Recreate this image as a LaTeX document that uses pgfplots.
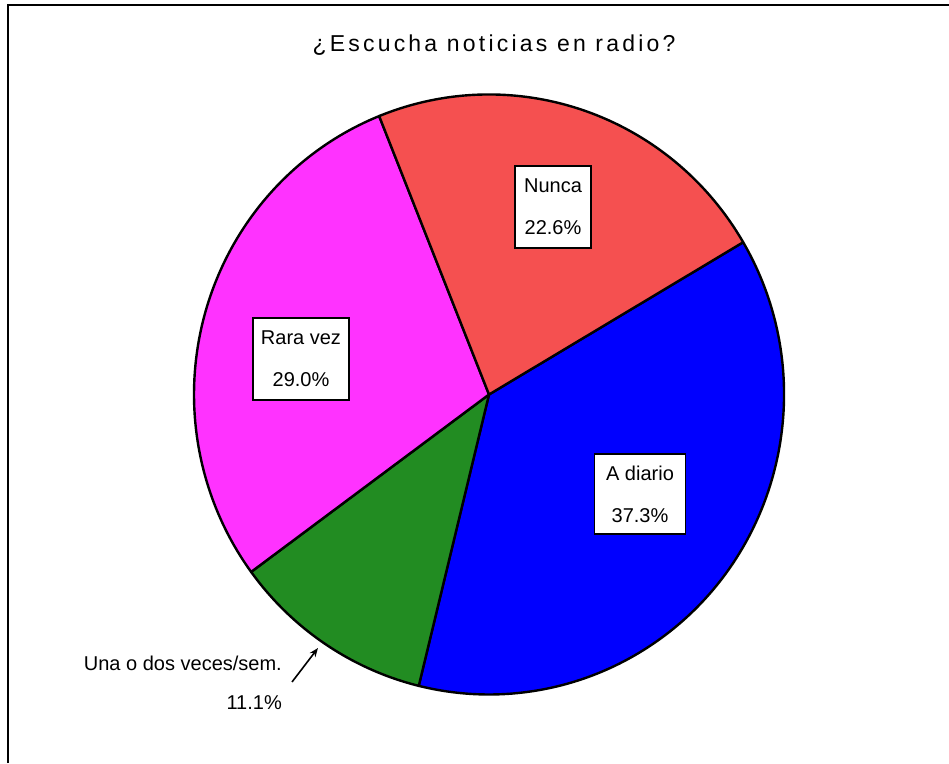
\documentclass[border=0pt]{standalone}
\usepackage{fontspec}
\setmainfont{Liberation Sans}
\newfontfamily\titlefont[LetterSpace=14]{Liberation Sans}
\usepackage{pgfplots}
\usepackage{pgfplotstable}
\usetikzlibrary{arrows.meta}
\pgfplotsset{compat=1.18}

\definecolor{cDiario}{RGB}{0,0,255}
\definecolor{cUna}{RGB}{34,140,34}
\definecolor{cRara}{RGB}{255,50,255}
\definecolor{cNunca}{RGB}{245,80,80}

% slices clockwise from the first cut
\pgfplotstableread{
label value color
{A diario} 37.3 cDiario
{Una o dos veces/sem.} 11.1 cUna
{Rara vez} 29.0 cRara
Nunca 22.6 cNunca
}\piedata

\begin{document}
\begin{tikzpicture}
\begin{axis}[
    hide axis,
    scale only axis,
    width=949pt, height=763pt,
    xmin=0, xmax=949,
    ymin=0, ymax=763,
    clip=false,
  ]

  % pie slices
  \def\angstart{30.5}
  \pgfplotsforeachungrouped \i in {0,...,3}{%
    \pgfplotstablegetelem{\i}{value}\of\piedata
    \let\val\pgfplotsretval
    \pgfplotstablegetelem{\i}{color}\of\piedata
    \let\col\pgfplotsretval
    \pgfmathsetmacro\angend{\angstart-3.6*\val}
    \edef\slice{\noexpand\fill[fill=\col, draw=black, line width=2.4pt, line join=round]
      (axis cs:489,368.5) -- ++(\angstart:295pt and 300pt)
      arc[start angle=\angstart, end angle=\angend, x radius=295pt, y radius=300pt] -- cycle;}
    \slice
    \let\angstart\angend
  }

  % frame
  \draw[line width=2.2pt] (axis cs:8,0) -- (axis cs:8,758) -- (axis cs:949,758);

  % title
  \node[font=\titlefont\fontsize{23}{27}\selectfont] at (axis cs:494,718) {¿Escucha noticias en radio?};

  % labels
  \tikzset{lbl/.style={draw=black, line width=1.6pt, fill=white, align=center,
      inner sep=0pt, font=\fontsize{20}{42}\selectfont}}
  \node[lbl, minimum width=76pt, minimum height=82pt] at (axis cs:553,556) {Nunca\\22.6\%};
  \node[lbl, minimum width=96pt, minimum height=82pt] at (axis cs:301,404) {Rara vez\\29.0\%};
  \node[lbl, minimum width=91pt, minimum height=80pt] at (axis cs:640,269) {A diario\\37.3\%};

  \node[anchor=east, inner sep=0pt, font=\fontsize{20}{24}\selectfont] at (axis cs:282,100) {Una o dos veces/sem.};
  \node[anchor=east, inner sep=0pt, font=\fontsize{20}{24}\selectfont] at (axis cs:282,60) {11.1\%};
  \draw[-{Stealth[length=9pt,width=7pt]}, line width=1.6pt] (axis cs:292,81) -- (axis cs:318,115);
\end{axis}
\pgfresetboundingbox
\path[use as bounding box] (0,0) rectangle (949pt,763pt);
\end{tikzpicture}
\end{document}
